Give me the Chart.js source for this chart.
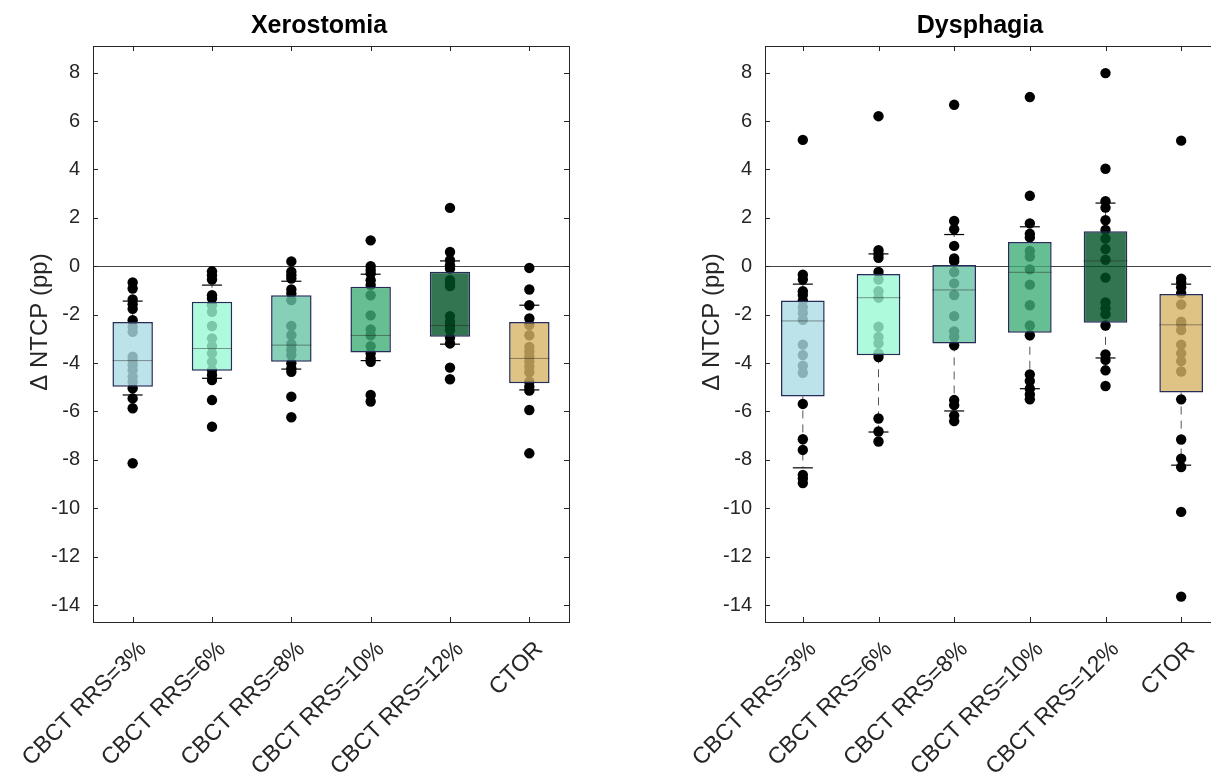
<!DOCTYPE html>
<html>
<head>
<meta charset="utf-8">
<script src="https://cdn.jsdelivr.net/npm/chart.js@4/dist/chart.umd.min.js"></script>
<style>
  html, body { margin: 0; padding: 0; background: #fff; overflow: hidden; width: 1211px; height: 782px; }
  canvas { position: absolute; top: 0; }
  #xeroChart { left: 0; }
  #dysChart { left: 672px; }
</style>
</head>
<body>
<canvas id="xeroChart" width="600" height="782"></canvas>
<canvas id="dysChart" width="578" height="782"></canvas>
<script>
// --- Data ---
const categories = ['CBCT RRS=3%', 'CBCT RRS=6%', 'CBCT RRS=8%', 'CBCT RRS=10%', 'CBCT RRS=12%', 'CTOR'];
const yTicks = [8, 6, 4, 2, 0, -2, -4, -6, -8, -10, -12, -14];

// Xerostomia: individual patient values per group
const xeroPoints = [
  [-0.67, -0.92, -1.37, -1.57, -1.76, -2.23, -2.50, -2.71, -3.74, -3.90, -4.08, -4.29, -4.56, -4.77, -5.04, -5.46, -5.87, -8.14],
  [-0.21, -0.37, -0.55, -1.20, -1.33, -1.61, -1.88, -2.47, -2.98, -3.30, -3.60, -3.95, -4.29, -4.49, -4.70, -5.53, -6.63],
  [0.20, -0.23, -0.37, -0.51, -0.96, -1.13, -1.40, -2.47, -2.85, -3.22, -3.46, -3.67, -4.01, -4.22, -4.36, -5.39, -6.24],
  [1.07, 0, -0.16, -0.30, -0.58, -0.78, -1.20, -2.03, -2.61, -2.85, -3.30, -3.60, -3.81, -3.95, -5.32, -5.59],
  [2.41, 0.59, 0.25, 0.04, -0.10, -0.58, -0.71, -0.82, -2.06, -2.30, -2.47, -2.64, -2.96, -3.19, -4.19, -4.67],
  [-0.07, -0.96, -1.61, -2.16, -2.43, -2.85, -3.33, -3.53, -3.74, -3.95, -4.15, -4.38, -4.77, -4.98, -5.14, -5.94, -7.73]
];
const xeroQ1 = [-4.98, -4.32, -3.95, -3.56, -2.91, -4.84];
const xeroQ3 = [-2.30, -1.47, -1.20, -0.85, -0.23, -2.30];
const xeroMedian = [-3.90, -3.40, -3.26, -2.86, -2.45, -3.81];
const xeroWhiskerLow = [-5.32, -4.63, -4.25, -3.90, -3.22, -5.11];
const xeroWhiskerHigh = [-1.44, -0.78, -0.62, -0.33, 0.22, -1.61];

// Dysphagia
const dysPoints = [
  [5.22, -0.35, -0.55, -1.03, -1.19, -1.42, -1.69, -1.93, -2.21, -3.24, -3.67, -4.11, -4.40, -5.69, -7.15, -7.59, -8.62, -8.77, -8.96],
  [6.20, 0.66, 0.51, 0.35, -0.24, -0.55, -1.03, -1.30, -2.50, -2.92, -3.19, -3.60, -3.75, -6.29, -6.83, -7.24],
  [6.67, 1.87, 1.53, 0.84, 0.32, 0.21, -0.24, -0.71, -1.19, -2.06, -2.69, -2.92, -3.27, -5.53, -5.74, -6.17, -6.40],
  [6.99, 2.91, 1.77, 1.34, 1.19, 0.63, 0.40, -0.13, -0.76, -1.61, -2.45, -2.85, -4.47, -4.74, -5.06, -5.30, -5.50],
  [7.98, 4.03, 2.69, 2.42, 1.90, 1.50, 1.14, 0.71, 0.27, -0.47, -1.50, -1.74, -1.98, -2.45, -3.64, -3.87, -4.30, -4.95],
  [5.19, -0.51, -0.66, -0.87, -1.11, -1.58, -2.29, -2.40, -2.64, -3.24, -3.60, -3.92, -4.35, -5.50, -7.16, -7.95, -8.30, -10.15, -13.65]
];
const dysQ1 = [-5.38, -3.68, -3.19, -2.75, -2.34, -5.22];
const dysQ3 = [-1.42, -0.32, 0.05, 1.00, 1.45, -1.15];
const dysMedian = [-2.26, -1.30, -0.98, -0.25, 0.22, -2.42];
const dysWhiskerLow = [-8.33, -6.85, -5.98, -5.06, -3.79, -8.22];
const dysWhiskerHigh = [-0.74, 0.51, 1.31, 1.63, 2.61, -0.74];

// box fills (semi transparent so the dots show through, like the original)
const boxColors = [
  'rgba(172, 220, 229, 0.8)',
  'rgba(153, 249, 211, 0.8)',
  'rgba(103, 196, 164, 0.8)',
  'rgba(64, 175, 119, 0.8)',
  'rgba(0, 83, 38, 0.8)',
  'rgba(215, 180, 101, 0.8)'
];

const AXIS_COLOR = '#262626';
const FONT = 'Helvetica, "Liberation Sans", Arial, sans-serif';

// MATLAB-ish frame with inward tick marks, plus title and y label
const framePlugin = {
  id: 'frame',
  afterDraw(chart) {
    const { ctx, chartArea: a, scales } = chart;
    const opts = chart.options.plugins.frame;
    ctx.save();
    ctx.strokeStyle = AXIS_COLOR;
    ctx.lineWidth = 1;
    ctx.strokeRect(a.left + 0.5, a.top + 0.5, a.right - a.left, a.bottom - a.top);
    const len = 5;
    ctx.beginPath();
    scales.y.ticks.forEach(t => {
      const y = Math.round(scales.y.getPixelForValue(t.value)) + 0.5;
      ctx.moveTo(a.left, y); ctx.lineTo(a.left + len, y);
      ctx.moveTo(a.right, y); ctx.lineTo(a.right - len, y);
    });
    scales.x.ticks.forEach(t => {
      const x = Math.round(scales.x.getPixelForValue(t.value)) + 0.5;
      ctx.moveTo(x, a.bottom); ctx.lineTo(x, a.bottom - len);
      ctx.moveTo(x, a.top); ctx.lineTo(x, a.top + len);
    });
    ctx.stroke();

    // title
    ctx.fillStyle = '#000';
    ctx.font = 'bold 25px ' + FONT;
    ctx.textAlign = 'center';
    ctx.textBaseline = 'middle';
    ctx.fillText(opts.title, (a.left + a.right) / 2 - 12, 26);

    // y axis label
    ctx.fillStyle = AXIS_COLOR;
    ctx.font = '24px ' + FONT;
    ctx.translate(40, (a.top + a.bottom) / 2 - 12);
    ctx.rotate(-Math.PI / 2);
    ctx.fillText('\u0394 NTCP (pp)', 0, 0);
    ctx.restore();
  }
};

function buildChart(canvasId, title, points, q1, q3, median, wLow, wHigh, barPct, medRadius) {
  const pointData = [];
  points.forEach((arr, i) => arr.forEach(v => pointData.push({ x: i + 1, y: v })));

  const boxData = categories.map((c, i) => ({ x: i + 1, y: [q1[i], q3[i]] }));
  const medData = categories.map((c, i) => ({ x: i + 1, y: median[i] }));
  const capData = [];
  const whiskerData = [];
  categories.forEach((c, i) => {
    capData.push({ x: i + 1, y: wLow[i] }, { x: i + 1, y: wHigh[i] });
    whiskerData.push({ x: i + 1, y: q3[i] }, { x: i + 1, y: wHigh[i] }, { x: i + 1, y: null });
    whiskerData.push({ x: i + 1, y: q1[i] }, { x: i + 1, y: wLow[i] }, { x: i + 1, y: null });
  });

  return new Chart(document.getElementById(canvasId), {
    type: 'scatter',
    data: {
      datasets: [
        {
          type: 'scatter', data: medData, pointStyle: 'line', pointRadius: medRadius,
          borderColor: 'rgba(30, 30, 30, 0.45)', borderWidth: 1
        },
        {
          type: 'bar', data: boxData, backgroundColor: boxColors,
          borderColor: '#262b57', borderWidth: 1.5, borderSkipped: false,
          barPercentage: barPct, categoryPercentage: 1
        },
        {
          type: 'scatter', data: capData, pointStyle: 'line', pointRadius: 10,
          borderColor: '#000', borderWidth: 1.2
        },
        {
          type: 'scatter', data: pointData, pointRadius: 5.2,
          backgroundColor: '#000', borderColor: '#000', borderWidth: 0
        },
        {
          type: 'line', data: whiskerData, spanGaps: false, pointRadius: 0,
          borderColor: '#555', borderWidth: 1, borderDash: [8, 6], fill: false
        }
      ]
    },
    options: {
      responsive: false,
      animation: false,
      layout: { padding: { left: 0, right: 31, top: 46, bottom: 0 } },
      plugins: {
        legend: { display: false },
        tooltip: { enabled: false },
        title: { display: false },
        frame: { title: title }
      },
      scales: {
        x: {
          type: 'linear', min: 0.5, max: 6.5, offset: false,
          afterBuildTicks: s => { s.ticks = categories.map((c, i) => ({ value: i + 1 })); },
          afterFit: s => { s.height = 160; },
          grid: { display: false },
          border: { display: false },
          ticks: {
            color: AXIS_COLOR, font: { family: FONT, size: 23 },
            minRotation: 45, maxRotation: 45, padding: 6, labelOffset: 10, autoSkip: false,
            callback: v => categories[v - 1]
          }
        },
        y: {
          min: -14.7, max: 9.1,
          afterBuildTicks: s => { s.ticks = yTicks.map(v => ({ value: v })); },
          afterFit: s => { s.width = 93; },
          grid: {
            drawTicks: false,
            color: c => (c.tick && c.tick.value === 0 ? '#444' : 'rgba(0,0,0,0)'),
            lineWidth: 1
          },
          border: { display: false },
          ticks: { color: AXIS_COLOR, font: { family: FONT, size: 20 }, padding: 13 },
          title: { display: false }
        }
      }
    },
    plugins: [framePlugin]
  });
}

buildChart('xeroChart', 'Xerostomia', xeroPoints, xeroQ1, xeroQ3, xeroMedian, xeroWhiskerLow, xeroWhiskerHigh, 0.51, 20);
buildChart('dysChart', 'Dysphagia', dysPoints, dysQ1, dysQ3, dysMedian, dysWhiskerLow, dysWhiskerHigh, 0.577, 22);
</script>
</body>
</html>
